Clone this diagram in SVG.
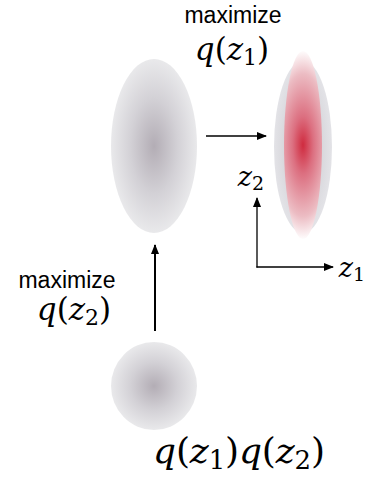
<svg xmlns="http://www.w3.org/2000/svg" width="374" height="478" viewBox="0 0 374 478">
<style>
.lbl{font-family:"Liberation Sans",Arial,sans-serif;font-size:23px;fill:#000;text-anchor:middle}
.math{font-family:"DejaVu Serif","Liberation Serif",serif;fill:#000;text-anchor:middle}
.it{font-style:italic}
.conn{stroke:#000;fill:none}
</style>
<defs>
<radialGradient id="gGrey" cx="0.5" cy="0.5" r="0.5">
<stop offset="0" stop-color="#b3adb5"/>
<stop offset="0.55" stop-color="#d3d1d6"/>
<stop offset="1" stop-color="#e9e9eb"/>
</radialGradient>
<radialGradient id="gOuter" cx="0.5" cy="0.5" r="0.5">
<stop offset="0" stop-color="#c4c2c8"/>
<stop offset="1" stop-color="#e3e3e7"/>
</radialGradient>
<radialGradient id="gRed" gradientUnits="userSpaceOnUse" cx="303" cy="145" r="95" gradientTransform="translate(303 145) scale(0.36 1) translate(-303 -145)">
<stop offset="0" stop-color="#cf2b3f"/>
<stop offset="0.3" stop-color="#dc6f80"/>
<stop offset="0.75" stop-color="#ecbcc3"/>
<stop offset="1" stop-color="#ffffff"/>
</radialGradient>
<marker id="ah" markerWidth="10" markerHeight="8" refX="9" refY="4" orient="auto" markerUnits="userSpaceOnUse">
<path d="M0,0 L10,4 L0,8 z" fill="#000"/>
</marker>
</defs>
<g id="node-prior">
<ellipse cx="154" cy="386" rx="43" ry="44" fill="url(#gGrey)"/>
<text class="math" x="239" y="463" font-size="36" textLength="172"><tspan class="it">q</tspan>(<tspan class="it">z</tspan><tspan font-size="26" dy="6">1</tspan><tspan dy="-6">)</tspan><tspan class="it">q</tspan>(<tspan class="it">z</tspan><tspan font-size="26" dy="6">2</tspan><tspan dy="-6">)</tspan></text>
</g>
<g id="node-mid">
<ellipse cx="154" cy="146" rx="43" ry="87" fill="url(#gGrey)"/>
</g>
<g id="node-final">
<ellipse cx="303" cy="147" rx="29" ry="86" fill="url(#gOuter)"/>
<ellipse cx="303" cy="145" rx="19" ry="94" fill="url(#gRed)"/>
</g>
<g id="label-top">
<text class="lbl" x="233" y="23">maximize</text>
<text class="math" x="232" y="60" font-size="31"><tspan class="it">q</tspan>(<tspan class="it">z</tspan><tspan font-size="22" dy="5">1</tspan><tspan dy="-5">)</tspan></text>
</g>
<g id="label-left">
<text class="lbl" x="67" y="288">maximize</text>
<text class="math" x="74" y="320" font-size="31"><tspan class="it">q</tspan>(<tspan class="it">z</tspan><tspan font-size="22" dy="5">2</tspan><tspan dy="-5">)</tspan></text>
</g>
<g id="axes">
<text class="math" x="251" y="186" font-size="27"><tspan class="it">z</tspan><tspan font-size="19" dy="4">2</tspan></text>
<text class="math" x="352" y="277" font-size="27"><tspan class="it">z</tspan><tspan font-size="19" dy="4">1</tspan></text>
</g>
<g id="connectors">
<line class="conn" x1="206" y1="136" x2="266" y2="136" stroke-width="1.5" marker-end="url(#ah)"/>
<line class="conn" x1="155" y1="331" x2="155" y2="245" stroke-width="2" marker-end="url(#ah)"/>
<line class="conn" x1="257" y1="267.5" x2="257" y2="198" stroke-width="1.3" marker-end="url(#ah)"/>
<line class="conn" x1="256.4" y1="267" x2="333" y2="267" stroke-width="1.3" marker-end="url(#ah)"/>
</g>
</svg>
